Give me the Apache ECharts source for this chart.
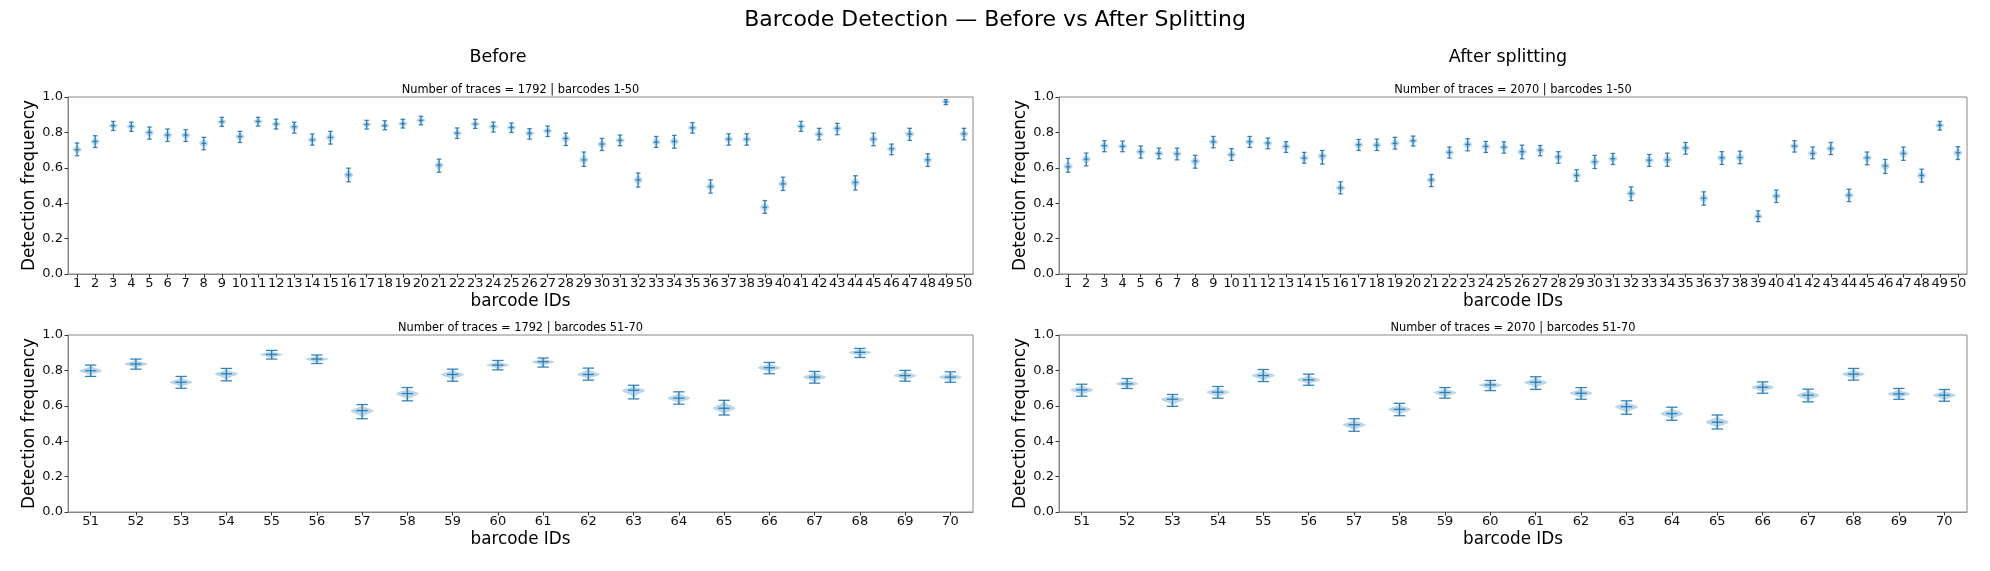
<!DOCTYPE html>
<html>
<head>
<meta charset="utf-8">
<script src="https://cdn.jsdelivr.net/npm/echarts@6/dist/echarts.min.js"></script>
<style>
html,body{margin:0;padding:0;background:#fff;}
#chart{width:1990px;height:571px;}
</style>
</head>
<body>
<div id="chart"></div>
<script>
// ---- Data ----
const idsTop = ["1","2","3","4","5","6","7","8","9","10","11","12","13","14","15","16","17","18","19","20","21","22","23","24","25","26","27","28","29","30","31","32","33","34","35","36","37","38","39","40","41","42","43","44","45","46","47","48","49","50"];
const idsBottom = ["51","52","53","54","55","56","57","58","59","60","61","62","63","64","65","66","67","68","69","70"];
const traceCounts = [1792, 2070];
const yTicks = [0, 0.2, 0.4, 0.6, 0.8, 1.0];

const beforeMeanTop = [0.702,0.749,0.838,0.834,0.800,0.785,0.785,0.738,0.860,0.777,0.862,0.847,0.832,0.758,0.772,0.560,0.845,0.838,0.849,0.868,0.615,0.796,0.847,0.834,0.828,0.796,0.809,0.766,0.645,0.734,0.755,0.532,0.745,0.749,0.826,0.494,0.762,0.762,0.377,0.509,0.834,0.789,0.823,0.517,0.762,0.708,0.791,0.645,0.972,0.792];
const beforeLoTop = [0.668,0.715,0.811,0.806,0.762,0.749,0.749,0.702,0.834,0.743,0.836,0.819,0.796,0.728,0.734,0.521,0.819,0.815,0.825,0.843,0.575,0.766,0.823,0.802,0.800,0.762,0.777,0.726,0.608,0.698,0.725,0.491,0.715,0.711,0.796,0.457,0.728,0.728,0.343,0.472,0.806,0.758,0.787,0.475,0.725,0.674,0.755,0.608,0.957,0.758];
const beforeHiTop = [0.740,0.781,0.862,0.858,0.830,0.819,0.815,0.772,0.885,0.806,0.885,0.875,0.857,0.791,0.806,0.598,0.868,0.866,0.874,0.891,0.649,0.825,0.874,0.858,0.853,0.821,0.836,0.796,0.689,0.766,0.785,0.570,0.777,0.783,0.855,0.532,0.792,0.792,0.415,0.547,0.862,0.823,0.851,0.555,0.796,0.734,0.823,0.679,0.985,0.823];

const beforeMeanBottom = [0.798,0.836,0.733,0.781,0.890,0.864,0.573,0.669,0.777,0.830,0.849,0.777,0.688,0.643,0.586,0.815,0.762,0.902,0.771,0.762];
const beforeLoBottom = [0.766,0.807,0.699,0.741,0.864,0.839,0.527,0.628,0.739,0.803,0.819,0.745,0.639,0.609,0.548,0.781,0.728,0.873,0.739,0.733];
const beforeHiBottom = [0.830,0.864,0.766,0.811,0.913,0.887,0.607,0.703,0.807,0.856,0.870,0.813,0.716,0.679,0.631,0.845,0.794,0.924,0.800,0.792];

const afterMeanTop = [0.606,0.649,0.725,0.721,0.691,0.681,0.679,0.638,0.747,0.674,0.747,0.740,0.721,0.655,0.668,0.487,0.730,0.728,0.738,0.753,0.532,0.687,0.732,0.721,0.717,0.691,0.700,0.662,0.557,0.634,0.651,0.455,0.643,0.645,0.713,0.428,0.657,0.658,0.325,0.440,0.723,0.681,0.709,0.445,0.657,0.611,0.681,0.557,0.840,0.685];
const afterLoTop = [0.575,0.611,0.691,0.691,0.655,0.651,0.645,0.598,0.713,0.642,0.715,0.708,0.687,0.626,0.621,0.453,0.698,0.698,0.706,0.723,0.494,0.655,0.696,0.687,0.683,0.651,0.668,0.626,0.525,0.596,0.619,0.415,0.608,0.608,0.677,0.389,0.619,0.623,0.296,0.404,0.689,0.651,0.675,0.409,0.617,0.568,0.642,0.519,0.813,0.647];
const afterHiTop = [0.653,0.683,0.753,0.751,0.723,0.711,0.711,0.670,0.777,0.708,0.777,0.768,0.747,0.687,0.698,0.521,0.760,0.762,0.772,0.779,0.562,0.717,0.764,0.749,0.747,0.728,0.726,0.691,0.589,0.670,0.681,0.492,0.675,0.683,0.743,0.464,0.691,0.694,0.357,0.474,0.753,0.717,0.743,0.479,0.689,0.647,0.717,0.592,0.862,0.719];

const afterMeanBottom = [0.690,0.724,0.637,0.677,0.771,0.747,0.493,0.580,0.675,0.718,0.733,0.671,0.595,0.556,0.507,0.705,0.660,0.779,0.667,0.660];
const afterLoBottom = [0.654,0.698,0.597,0.643,0.737,0.716,0.456,0.544,0.643,0.686,0.693,0.637,0.552,0.518,0.469,0.671,0.622,0.745,0.637,0.626];
const afterHiBottom = [0.722,0.754,0.664,0.709,0.805,0.779,0.527,0.614,0.703,0.743,0.764,0.703,0.628,0.592,0.548,0.735,0.694,0.811,0.698,0.692];

// ---- Chart ----
const FONT = 'DejaVu Sans';
const BLUE = '#1f77b4';
const chart = echarts.init(document.getElementById('chart'), null, {renderer: 'canvas'});

const grids = [
  {left: 68, top: 97, width: 905, height: 177},
  {left: 1059, top: 97, width: 908, height: 177},
  {left: 68, top: 335, width: 905, height: 177},
  {left: 1059, top: 335, width: 908, height: 177}
];

function buildData(mean, lo, hi) {
  return mean.map((m, i) => [i, m, lo[i], hi[i]]);
}

function renderItem(params, api) {
  const x = api.value(0), m = api.value(1), lo = api.value(2), hi = api.value(3);
  const pc = api.coord([x, m]), pl = api.coord([x, lo]), ph = api.coord([x, hi]);
  const bw = api.size([1, 0])[0];
  const vw = bw * 0.5 / 2;
  const cw = bw * 0.25 / 2;
  const upR = pc[1] - ph[1], dnR = pl[1] - pc[1];
  const upS = upR / 2.8, dnS = dnR / 2.8;
  const N = 30;
  const right = [], left = [];
  for (let i = 0; i <= N; i++) {
    const t = -1 + 2 * i / N;
    const y = t < 0 ? pc[1] + t * upR : pc[1] + t * dnR;
    const s = t < 0 ? upS : dnS;
    const d = y - pc[1];
    const w = s > 0 ? vw * Math.exp(-d * d / (2 * s * s)) : vw;
    right.push([pc[0] + w, y]);
    left.push([pc[0] - w, y]);
  }
  const poly = right.concat(left.reverse());
  const ls = {stroke: BLUE, lineWidth: 1.3, opacity: 0.9};
  return {
    type: 'group',
    children: [
      {type: 'polygon', shape: {points: poly}, style: {fill: 'rgba(31,119,180,0.3)', stroke: 'none'}},
      {type: 'line', shape: {x1: pc[0], y1: ph[1], x2: pc[0], y2: pl[1]}, style: ls},
      {type: 'line', shape: {x1: pc[0] - cw, y1: ph[1], x2: pc[0] + cw, y2: ph[1]}, style: ls},
      {type: 'line', shape: {x1: pc[0] - cw, y1: pl[1], x2: pc[0] + cw, y2: pl[1]}, style: ls},
      {type: 'line', shape: {x1: pc[0] - cw, y1: pc[1], x2: pc[0] + cw, y2: pc[1]}, style: ls}
    ]
  };
}

const panels = [
  {cats: idsTop, mean: beforeMeanTop, lo: beforeLoTop, hi: beforeHiTop, n: traceCounts[0], range: '1-50'},
  {cats: idsTop, mean: afterMeanTop, lo: afterLoTop, hi: afterHiTop, n: traceCounts[1], range: '1-50'},
  {cats: idsBottom, mean: beforeMeanBottom, lo: beforeLoBottom, hi: beforeHiBottom, n: traceCounts[0], range: '51-70'},
  {cats: idsBottom, mean: afterMeanBottom, lo: afterLoBottom, hi: afterHiBottom, n: traceCounts[1], range: '51-70'}
];

const titles = [
  {text: 'Barcode Detection — Before vs After Splitting', left: 995, top: 20, textAlign: 'center', textVerticalAlign: 'middle', padding: 0,
   textStyle: {fontFamily: FONT, fontSize: 22, fontWeight: 'normal', color: '#000'}},
  {text: 'Before', left: 498, top: 57, textAlign: 'center', textVerticalAlign: 'middle', padding: 0,
   textStyle: {fontFamily: FONT, fontSize: 17.5, fontWeight: 'normal', color: '#000'}},
  {text: 'After splitting', left: 1508, top: 57, textAlign: 'center', textVerticalAlign: 'middle', padding: 0,
   textStyle: {fontFamily: FONT, fontSize: 17.5, fontWeight: 'normal', color: '#000'}}
];
panels.forEach((p, i) => {
  const g = grids[i];
  titles.push({
    text: 'Number of traces = ' + p.n + ' | barcodes ' + p.range,
    left: g.left + g.width / 2, top: g.top - 7, textAlign: 'center', textVerticalAlign: 'middle', padding: 0,
    textStyle: {fontFamily: FONT, fontSize: 11.4, fontWeight: 'normal', color: '#000'}
  });
});

const xAxes = panels.map((p, i) => ({
  type: 'category', gridIndex: i, data: p.cats, boundaryGap: true,
  name: 'barcode IDs', nameLocation: 'middle', nameGap: 19,
  nameTextStyle: {fontFamily: FONT, fontSize: 16.8, color: '#000'},
  axisLine: {show: true, lineStyle: {color: '#888', width: 1}},
  axisTick: {show: true, alignWithLabel: true, length: 3.5, lineStyle: {color: '#333'}},
  axisLabel: {interval: 0, fontFamily: FONT, fontSize: 13, color: '#111', margin: 3},
  splitLine: {show: false}
}));
const yAxes = panels.map((p, i) => ({
  type: 'value', gridIndex: i, min: 0, max: 1, interval: 0.2,
  name: 'Detection frequency', nameLocation: 'middle', nameGap: 23,
  nameTextStyle: {fontFamily: FONT, fontSize: 16.8, color: '#000'},
  axisLine: {show: true, lineStyle: {color: '#888', width: 1}},
  axisTick: {show: true, length: 3.5, lineStyle: {color: '#333'}},
  axisLabel: {fontFamily: FONT, fontSize: 13, color: '#111', margin: 5,
    formatter: v => (yTicks.some(t => Math.abs(t - v) < 1e-9) ? v.toFixed(1) : '')},
  splitLine: {show: false}
}));

const series = panels.map((p, i) => ({
  type: 'custom', xAxisIndex: i, yAxisIndex: i,
  data: buildData(p.mean, p.lo, p.hi),
  encode: {x: 0, y: [1, 2, 3]},
  renderItem: renderItem,
  clip: false,
  silent: true
}));

chart.setOption({
  backgroundColor: '#fff',
  animation: false,
  title: titles,
  grid: grids.map(g => Object.assign({show: true, borderColor: '#888', borderWidth: 1, backgroundColor: '#fff', containLabel: false}, g)),
  xAxis: xAxes,
  yAxis: yAxes,
  series: series
});
</script>
</body>
</html>
